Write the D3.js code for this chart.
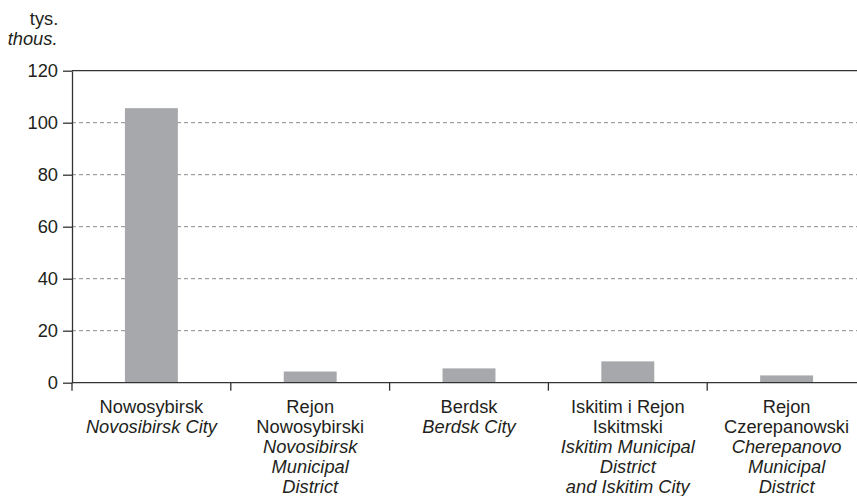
<!DOCTYPE html>
<html lang="en">
    <head>
        <meta charset="utf-8">
        <title>Bar chart</title>
        <script type="text/javascript" src="https://d3js.org/d3.v7.min.js"></script>
        <style type="text/css">
            body{
                margin: 0;
                background-color: white;
            }
            text{
                font-family: "Liberation Sans", Arial, sans-serif;
                font-size: 18.3px;
                fill: #231f20;
            }
        </style>
    </head>
    <body>
        <script type="text/javascript">

        //data
        const categories = ["Nowosybirsk", "Rejon Nowosybirski", "Berdsk", "Iskitim i Rejon Iskitmski", "Rejon Czerepanowski"];
        const values = [105.6, 4.3, 5.5, 8.2, 2.8];
        const labelsPl = [["Nowosybirsk"], ["Rejon", "Nowosybirski"], ["Berdsk"], ["Iskitim i Rejon", "Iskitmski"], ["Rejon", "Czerepanowski"]];
        const labelsEn = [["Novosibirsk City"], ["Novosibirsk", "Municipal", "District"], ["Berdsk City"], ["Iskitim Municipal", "District", "and Iskitim City"], ["Cherepanovo", "Municipal", "District"]];
        const yTicks = [0, 20, 40, 60, 80, 100, 120];

        const width = 857;
        const height = 496;
        const plotLeft = 72;
        const plotRight = 866; //plot runs past the window edge, like the source
        const plotTop = 70.7;
        const plotBottom = 382.7;
        const fontSize = "18.3px";

        const xScale = d3.scaleBand()
                        .domain(categories)
                        .range([plotLeft, plotRight])
                        .paddingInner(0);

        const yScale = d3.scaleLinear()
                        .domain([0, 120])
                        .range([plotBottom, plotTop]);

        const svg = d3.select("body")
                    .append("svg")
                    .attr("width", width)
                    .attr("height", height);

        //gridlines
        svg.append("g")
            .selectAll("line")
            .data(yTicks.filter(d => d > 0 && d < 120))
            .enter()
            .append("line")
            .attr("x1", plotLeft)
            .attr("x2", plotRight)
            .attr("y1", d => yScale(d))
            .attr("y2", d => yScale(d))
            .attr("stroke", "#8a8a8a")
            .attr("stroke-width", 1)
            .attr("stroke-dasharray", "4,3");

        //top frame line
        svg.append("line")
            .attr("x1", plotLeft)
            .attr("x2", plotRight)
            .attr("y1", yScale(120))
            .attr("y2", yScale(120))
            .attr("stroke", "#333")
            .attr("stroke-width", 1.3);

        //bars
        const barW = xScale.bandwidth() / 3;
        svg.selectAll("rect.bar")
            .data(values)
            .enter()
            .append("rect")
            .attr("class", "bar")
            .attr("x", (d, i) => xScale(categories[i]) + (xScale.bandwidth() - barW) / 2)
            .attr("y", d => yScale(d))
            .attr("width", barW)
            .attr("height", d => yScale(0) - yScale(d))
            .attr("fill", "#a7a8ab");

        //y axis
        const leftAxis = d3.axisLeft(yScale)
                           .tickValues(yTicks)
                           .tickSize(9)
                           .tickSizeOuter(0)
                           .tickPadding(5);

        const yAxisG = svg.append("g")
            .attr("transform", "translate(" + plotLeft + ",0)")
            .call(leftAxis);
        yAxisG.select(".domain").attr("stroke", "#333").attr("stroke-width", 1.3);
        yAxisG.selectAll(".tick line").attr("stroke", "#333").attr("stroke-width", 1.3);
        yAxisG.selectAll(".tick text")
            .style("font-family", "'Liberation Sans', Arial, sans-serif")
            .style("font-size", fontSize)
            .attr("fill", "#231f20");

        //x axis line
        svg.append("line")
            .attr("x1", plotLeft)
            .attr("x2", plotRight)
            .attr("y1", yScale(0))
            .attr("y2", yScale(0))
            .attr("stroke", "#333")
            .attr("stroke-width", 1.3);

        //x ticks at band edges
        const edges = categories.map(c => xScale(c));
        svg.append("g")
            .selectAll("line")
            .data(edges)
            .enter()
            .append("line")
            .attr("x1", d => d)
            .attr("x2", d => d)
            .attr("y1", yScale(0))
            .attr("y2", yScale(0) + 8)
            .attr("stroke", "#333")
            .attr("stroke-width", 1.3);

        //category labels
        const lineH = 20;
        categories.forEach((c, i) => {
            const cx = xScale(c) + xScale.bandwidth() / 2;
            const t = svg.append("text")
                .attr("text-anchor", "middle")
                .attr("x", cx)
                .attr("y", 412.7);
            labelsPl[i].forEach((s, j) => {
                t.append("tspan").attr("x", cx).attr("dy", j === 0 ? 0 : lineH).text(s);
            });
            labelsEn[i].forEach(s => {
                t.append("tspan").attr("x", cx).attr("dy", lineH)
                    .style("font-style", "italic").text(s);
            });
        });

        //unit label
        svg.append("text")
            .attr("x", 58.3)
            .attr("y", 25)
            .attr("text-anchor", "end")
            .text("tys.");
        svg.append("text")
            .attr("x", 57.5)
            .attr("y", 45)
            .attr("text-anchor", "end")
            .style("font-style", "italic")
            .text("thous.");

        </script>
    </body>
</html>
